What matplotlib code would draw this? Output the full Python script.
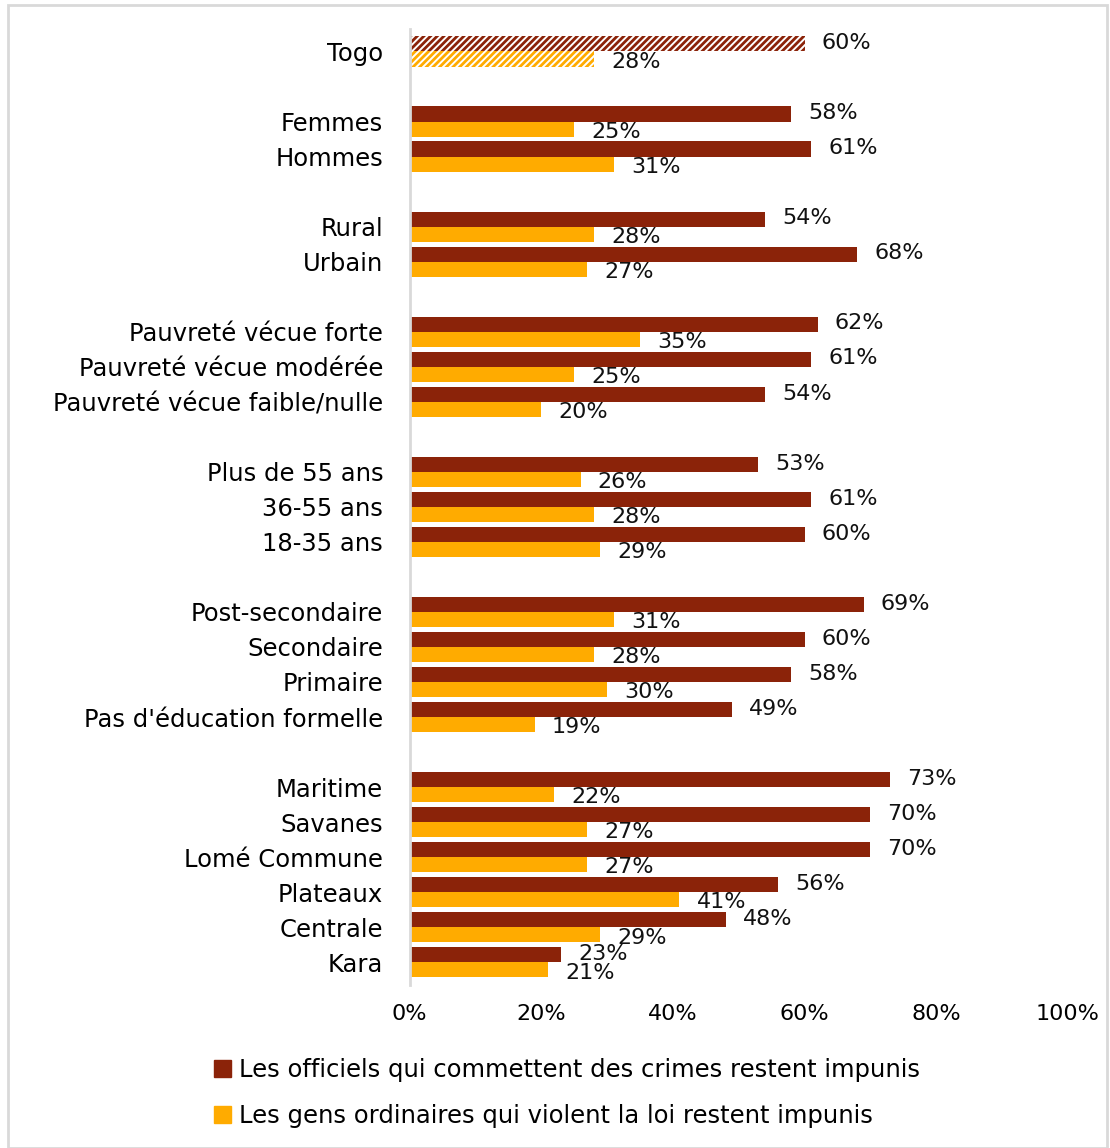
import numpy as np
import matplotlib.pyplot as plt
from matplotlib.patches import Rectangle

plt.rcParams['font.family'] = ['DejaVu Sans']
plt.rcParams['hatch.linewidth'] = 2.0

categories = ['Togo',
              'Femmes', 'Hommes',
              'Rural', 'Urbain',
              'Pauvreté vécue forte', 'Pauvreté vécue modérée', 'Pauvreté vécue faible/nulle',
              'Plus de 55 ans', '36-55 ans', '18-35 ans',
              'Post-secondaire', 'Secondaire', 'Primaire', "Pas d'éducation formelle",
              'Maritime', 'Savanes', 'Lomé Commune', 'Plateaux', 'Centrale', 'Kara']
group_sizes = [1, 2, 2, 3, 3, 4, 6]

officiels = [60, 58, 61, 54, 68, 62, 61, 54, 53, 61, 60, 69, 60, 58, 49, 73, 70, 70, 56, 48, 23]
ordinaires = [28, 25, 31, 28, 27, 35, 25, 20, 26, 28, 29, 31, 28, 30, 19, 22, 27, 27, 41, 29, 21]

label_officiels = 'Les officiels qui commettent des crimes restent impunis'
label_ordinaires = 'Les gens ordinaires qui violent la loi restent impunis'

dark = '#8B2309'
orange = '#FFAB00'

# slot positions: a blank slot between groups
pos = []
slot = 0
for size in group_sizes:
    for i in range(size):
        pos.append(slot)
        slot += 1
    slot += 1
pos = np.array(pos, dtype=float)

fig = plt.figure(figsize=(11.1, 11.48), dpi=100)
ax = fig.add_axes([0.369, 0.142, 0.593, 0.833])

h = 0.43
fs = 17.5
fs_small = 16
for i, (p, a, b) in enumerate(zip(pos, officiels, ordinaires)):
    if i == 0:
        ax.barh(p - h / 2, a, height=h, color='white', edgecolor=dark, hatch='/////', lw=0)
        ax.barh(p + h / 2, b, height=h, color='white', edgecolor=orange, hatch='/////', lw=0)
    else:
        ax.barh(p - h / 2, a, height=h, color=dark)
        ax.barh(p + h / 2, b, height=h, color=orange)
    ax.text(a + 2.6, p - h / 2 - 0.02, f'{a}%', va='center', ha='left', fontsize=fs_small, color='#111111')
    ax.text(b + 2.6, p + h / 2 + 0.08, f'{b}%', va='center', ha='left', fontsize=fs_small, color='#111111')

ax.set_xlim(0, 100)
ax.set_ylim(pos[-1] + 0.65, -0.65)
ax.set_xticks(np.arange(0, 101, 20))
ax.set_xticklabels([f'{v}%' for v in range(0, 101, 20)], fontsize=fs_small)
ax.set_yticks(pos)
ax.set_yticklabels(categories, fontsize=fs)
ax.tick_params(axis='y', length=0, pad=19)
ax.tick_params(axis='x', length=0, pad=14)
for s in ['top', 'right', 'bottom']:
    ax.spines[s].set_visible(False)
ax.spines['left'].set_color('#d9d9d9')
ax.spines['left'].set_linewidth(2)

handles = [Rectangle((0, 0), 1, 1, color=dark), Rectangle((0, 0), 1, 1, color=orange)]
fig.legend(handles, [label_officiels, label_ordinaires], loc='center',
           bbox_to_anchor=(567 / 1110, 1 - 1093 / 1148), frameon=False, fontsize=fs,
           handlelength=0.7, handleheight=0.7, handletextpad=0.35, labelspacing=0.93)

fig.patches.append(Rectangle((0.007, 0.0), 0.99, 0.996, transform=fig.transFigure,
                             fill=False, edgecolor='#d9d9d9', lw=2))

fig.savefig('out.png', dpi=100)
